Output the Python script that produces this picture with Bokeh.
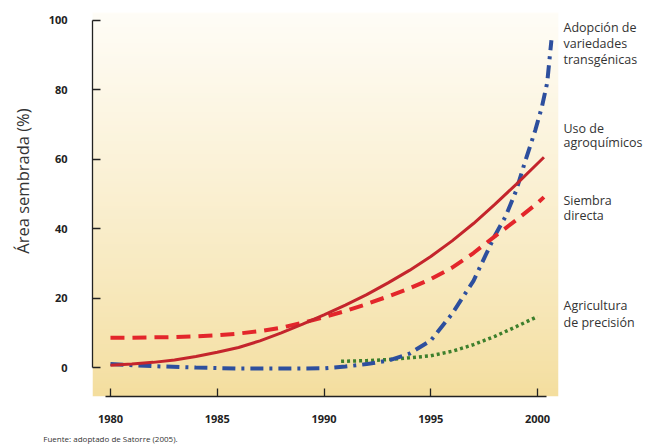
import numpy as np
from bokeh.plotting import figure
from bokeh.models import Range1d, FixedTicker, LinearAxis
from bokeh.embed import file_html
from bokeh.resources import INLINE

# ---------------- data ----------------
years_agro = [1980, 1981, 1982, 1983, 1984, 1985, 1986, 1987, 1988, 1989, 1990,
              1991, 1992, 1993, 1994, 1995, 1996, 1997, 1998, 1999, 2000, 2000.3]
agroquimicos = [0.7, 1.0, 1.5, 2.2, 3.2, 4.4, 5.8, 7.7, 10.0, 12.5, 15.2,
                18.0, 21.0, 24.4, 28.0, 32.0, 36.5, 41.5, 47.0, 52.8, 58.8, 60.6]

years_sd = [1980, 1981, 1982, 1983, 1984, 1985, 1986, 1987, 1988, 1989, 1990,
            1991, 1992, 1993, 1994, 1995, 1996, 1997, 1998, 1999, 2000, 2000.3]
siembra_directa = [8.6, 8.6, 8.7, 8.8, 9.0, 9.3, 9.8, 10.5, 11.5, 12.9, 14.5,
                   16.3, 18.3, 20.5, 22.8, 25.5, 28.8, 33.0, 37.8, 42.5, 47.4, 49.1]

years_tg = [1980, 1982, 1984, 1986, 1988, 1990, 1991, 1992, 1993, 1994, 1995, 1996,
            1997, 1998, 1998.5, 1999, 1999.4, 1999.9, 2000.2, 2000.45, 2000.65]
transgenicas = [1.0, 0.4, 0.0, -0.3, -0.3, -0.2, 0.3, 1.0, 2.0, 4.0, 7.8, 15.5,
                25.0, 38.0, 43.5, 51.0, 59.0, 68.5, 75.0, 82.0, 94.3]

years_ap = [1990.8, 1992, 1993, 1994, 1995, 1996, 1997, 1998, 1999, 2000]
precision = [1.8, 2.0, 2.3, 2.8, 3.4, 4.7, 6.6, 9.0, 11.8, 14.7]

x_ticks = [1980, 1985, 1990, 1995, 2000]
y_ticks = [0, 20, 40, 60, 80, 100]

series_labels = [["Adopción de", "variedades", "transgénicas"],
                 ["Uso de", "agroquímicos"],
                 ["Siembra", "directa"],
                 ["Agricultura", "de precisión"]]
y_label = "Área sembrada (%)"
source_note = "Fuente: adoptado de Satorre (2005)."

# ---------------- layout helpers (page px -> data) ----------------
def px(page_x):
    return 1980 + (page_x - 110) / 21.4

def py(page_y):
    return (368 - page_y) / 3.48

x0, x1 = px(92), px(559)
y0, y1 = py(397), py(12)

W, H = 645, 446
p = figure(width=W, height=H, output_backend="svg", toolbar_location=None,
           x_range=Range1d(x0, x1), y_range=Range1d(y0, y1),
           min_border_left=92, min_border_right=W - 559, min_border_top=12,
           min_border_bottom=H - 397)
p.outline_line_color = None
p.grid.visible = False
p.background_fill_color = "white"
p.border_fill_color = "white"

# gradient background
N = 200
t = np.linspace(0, 1, N) ** 0.85
top = np.array([255, 253, 247])
bot = np.array([244, 222, 158])
img = np.empty((N, 1), dtype=np.uint32)
view = img.view(dtype=np.uint8).reshape((N, 1, 4))
for i in range(N):
    c = bot + (top - bot) * t[i]
    view[i, 0, 0:3] = c.astype(np.uint8)
    view[i, 0, 3] = 255
p.image_rgba(image=[img], x=x0, y=y0, dw=x1 - x0, dh=y1 - y0)

# series
p.line(years_ap, precision, line_color="#3d7f2c", line_width=3.5, line_dash="3 3")
p.line(years_tg, transgenicas, line_color="#2d4f9e", line_width=4, line_dash="13 6 3 6")
p.line(years_sd, siembra_directa, line_color="#e3262b", line_width=4, line_dash="14 8")
p.line(years_agro, agroquimicos, line_color="#c4252c", line_width=3)

# main axes
for ax in (p.xaxis, p.yaxis):
    ax.major_tick_in = 8
    ax.major_tick_out = 0
    ax.minor_tick_in = 0
    ax.minor_tick_out = 0
    ax.axis_line_color = "#222222"
    ax.axis_line_width = 1.3
    ax.major_tick_line_color = "#222222"
    ax.major_tick_line_width = 1.3
    ax.major_label_text_font = "Open Sans"
    ax.major_label_text_font_style = "bold"
    ax.major_label_text_font_size = "11px"
    ax.major_label_text_color = "#222222"

p.xaxis.ticker = FixedTicker(ticks=x_ticks)
p.xaxis.bounds = (px(105), px(547))
p.xaxis.major_label_standoff = 18

p.yaxis.ticker = FixedTicker(ticks=y_ticks)
p.yaxis.bounds = (0, 100)
p.yaxis.major_label_standoff = 25


def text_axis(ticks, texts, size, color, standoff, orientation="horizontal"):
    ax = LinearAxis(ticker=FixedTicker(ticks=ticks),
                    major_label_overrides={t_: s for t_, s in zip(ticks, texts)},
                    axis_line_color=None, major_tick_line_color=None,
                    minor_tick_line_color=None, major_tick_in=0, major_tick_out=0,
                    minor_tick_in=0, minor_tick_out=0,
                    major_label_standoff=standoff,
                    major_label_orientation=orientation,
                    major_label_text_font="Open Sans",
                    major_label_text_font_size=size,
                    major_label_text_color=color)
    return ax

# y-axis title (as a rotated label of a second left axis)
p.add_layout(text_axis([round(py(181), 3)], [y_label], "16.5px", "#333333", 11,
                       "vertical"), "left")

# right-hand series labels
label_page_y = [[27, 43, 59], [128, 142], [200, 216], [306, 323]]
r_ticks, r_texts = [], []
for lines, ys in zip(series_labels, label_page_y):
    for txt, yy in zip(lines, ys):
        r_ticks.append(round(py(yy), 3))
        r_texts.append(txt)
p.add_layout(text_axis(r_ticks, r_texts, "12.5px", "#333333", 5), "right")

# source note below
p.add_layout(text_axis([round(px(110), 3)], [source_note], "8px", "#333333", 7),
             "below")

open("out.html", "w").write(file_html(p, INLINE))
